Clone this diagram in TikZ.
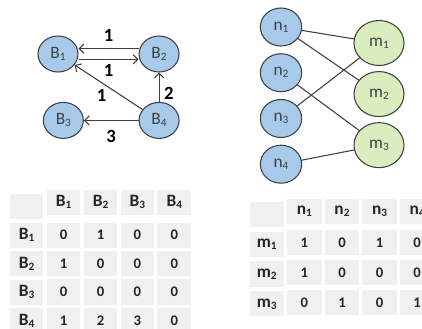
\documentclass[tikz,border=0pt]{standalone}
\usepackage{fontspec}
\setmainfont{Carlito}
\usetikzlibrary{
arrows.meta,
matrix,
positioning,
shapes.geometric
}
\definecolor{nodeblue}{HTML}{A7C9EA}
\definecolor{nodegreen}{HTML}{DAEDBE}
\definecolor{edgegray}{HTML}{404040}
\definecolor{cellgray}{HTML}{F0F0F0}
\newcommand{\idx}[1]{\raisebox{-0.25ex}{\scalebox{0.65}{#1}}}
\tikzset{>={Straight Barb[length=3.5pt,width=7pt]}}

\begin{document}
\begin{tikzpicture}[x=0.75pt, y=-0.75pt, font=\fontsize{13}{15}\selectfont,
	bnode/.style={ellipse, draw=edgegray, fill=nodeblue, line width=0.8pt, minimum width=30pt, minimum height=27pt, inner sep=0pt, text=black!75},
	nnode/.style={bnode, minimum width=31pt, minimum height=28.5pt},
	mnode/.style={bnode, fill=nodegreen, minimum width=37.5pt, minimum height=33.75pt},
	weight/.style={font=\fontsize{14}{16}\selectfont\bfseries},
	link/.style={draw=edgegray, line width=0.8pt},
	adjtable/.style={matrix of nodes, nodes in empty cells, row sep=0pt, column sep=0pt,
		nodes={rectangle, fill=cellgray, draw=white, line width=1.2pt, minimum height=20pt, inner sep=0pt, text=black!85, font=\fontsize{11}{13}\selectfont\bfseries},
		row 1/.style={nodes={font=\fontsize{13}{15}\selectfont\bfseries}},
		column 1/.style={nodes={font=\fontsize{13}{15}\selectfont\bfseries}}}]
		\useasboundingbox (0,0) rectangle (422,329);
		\clip (0,0) rectangle (422,329);
		
		% directed graph
		\node[bnode]                      (b1) at (58,54) {B\idx{1}};
		\node[bnode,right=45pt of b1]     (b2) {B\idx{2}};
		\node[bnode,below=22pt of b2]     (b4) {B\idx{4}};
		\node[bnode,left=41pt of b4]      (b3) {B\idx{3}};
		
		\draw[->,link] ([yshift=4pt]b2.west) -- node[above=2pt,weight] {1} ([yshift=4pt]b1.east);
		\draw[->,link] ([yshift=-4pt]b1.east) -- node[below,weight] {1} ([yshift=-4pt]b2.west);
		\draw[->,link] (b4) -- node[below left=-3pt,weight] {1} (b1);
		\draw[->,link] (b4) -- node[pos=0.3,right,weight] {2} (b2);
		\draw[->,link] (b4) -- node[below=4pt,weight] {3} (b3);
		
		% bipartite graph
		\node[nnode]                           (n1) at (281,27) {n\idx{1}};
		\node[nnode,below=5pt of n1]           (n2) {n\idx{2}};
		\node[nnode,below=5pt of n2]           (n3) {n\idx{3}};
		\node[nnode,below=5pt of n3]           (n4) {n\idx{4}};
		\node[mnode]                           (m1) at (379,43) {m\idx{1}};
		\node[mnode,below=3.75pt of m1]        (m2) {m\idx{2}};
		\node[mnode,below=3.75pt of m2]        (m3) {m\idx{3}};
		
		\draw[link] (n1) -- (m1);
		\draw[link] (n1) -- (m2);
		\draw[link] (n3) -- (m1);
		\draw[link] (n2) -- (m3);
		\draw[link] (n4) -- (m3);
		
		% adjacency tables
		\matrix[adjtable, nodes={minimum width=26.5pt}] (bmatrix) at (100.5,261.5) {
			             & B\idx{1} & B\idx{2} & B\idx{3} & B\idx{4} \\
			B\idx{1}     & 0        & 1        & 0        & 0        \\
			B\idx{2}     & 1        & 0        & 0        & 0        \\
			B\idx{3}     & 0        & 0        & 0        & 0        \\
			B\idx{4}     & 1        & 2        & 3        & 0        \\
		};
		\matrix[adjtable, nodes={minimum width=27pt}] (nmatrix) at (342,257.5) {
			             & n\idx{1} & n\idx{2} & n\idx{3} & n\idx{4} \\
			m\idx{1}     & 1        & 0        & 1        & 0        \\
			m\idx{2}     & 1        & 0        & 0        & 0        \\
			m\idx{3}     & 0        & 1        & 0        & 1        \\
		};
	\end{tikzpicture}
\end{document}
